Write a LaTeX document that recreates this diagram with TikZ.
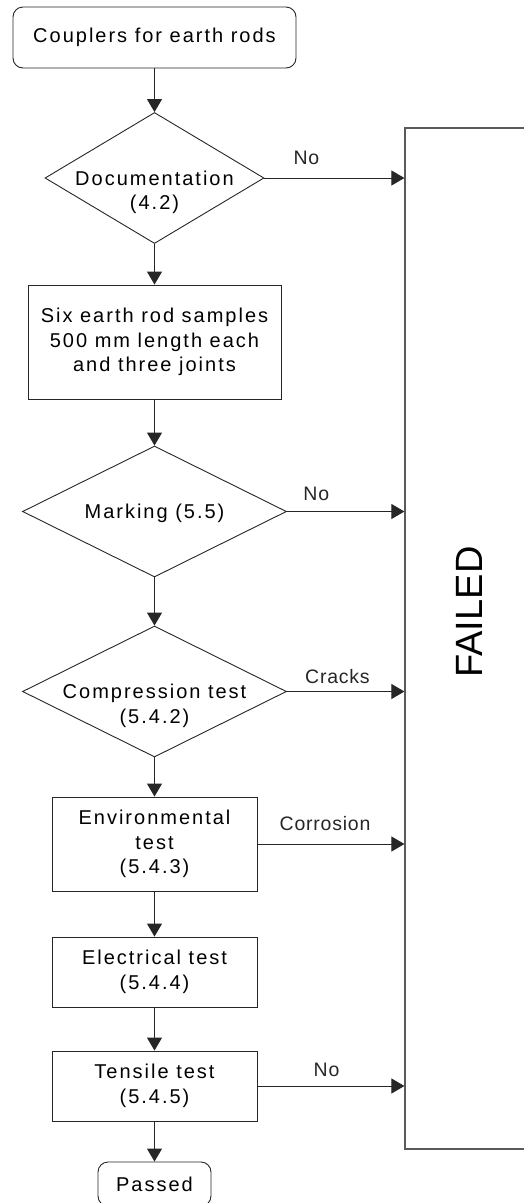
\documentclass[tikz,border=0pt]{standalone}
\usepackage{fontspec}
\setmainfont{Liberation Sans}
\newfontfamily\boxfont{Liberation Sans}[LetterSpace=10]
\newfontfamily\lblfont{Liberation Sans}[LetterSpace=4]
\usetikzlibrary{positioning,arrows.meta,shapes.geometric}
\definecolor{fcline}{HTML}{262626}
\definecolor{fcgray}{HTML}{5A5A5A}

\begin{document}
\begin{tikzpicture}[x=1pt,y=1pt,
  font=\boxfont\fontsize{20}{24.5}\selectfont,
  term/.style={rectangle,rounded corners=10pt,draw=fcline,line width=0.9pt,align=center,inner sep=0pt},
  stepbox/.style={rectangle,draw=fcline,line width=0.9pt,align=center,inner sep=0pt,minimum width=205pt,minimum height=70pt},
  check/.style={diamond,draw=fcline,line width=0.9pt,inner sep=0pt,aspect=2,text height=14pt,text depth=0pt},
  flow/.style={-{Triangle[length=13pt,width=15pt]},line width=1pt,fcline},
  lbl/.style={font=\lblfont\fontsize{19.5}{22}\selectfont,inner sep=0pt,anchor=base},
  failbox/.style={rectangle,draw=fcgray,line width=1.2pt,minimum width=160pt,minimum height=1021pt}]
  \useasboundingbox (0,0) rectangle (523,-1203);
  % main column
  \node[term,minimum width=283pt,minimum height=61pt] (start) at (154.5,-37.5) {Couplers for earth rods};
  \node[check,minimum width=219pt,minimum height=131pt] (doc) at (154.5,-178) {\begin{tabular}[t]{@{}c@{}}Documentation\\(4.2)\end{tabular}};
  \node[stepbox,minimum width=253pt,minimum height=114pt] (samp) at (154.5,-342) {Six earth rod samples\\500 mm length each\\and three joints};
  \node[check,minimum width=264pt,minimum height=131pt] (mark) at (154.5,-511.5) {Marking (5.5)};
  \node[check,minimum width=264pt,minimum height=131pt] (comp) at (154.5,-691.5) {\begin{tabular}[t]{@{}c@{}}Compression test\\(5.4.2)\end{tabular}};
  \node[stepbox,minimum height=94pt] (env) at (154.5,-844) {Environmental\\test\\(5.4.3)};
  \node[stepbox] (elec) at (154.5,-972) {Electrical test\\(5.4.4)};
  \node[stepbox] (tens) at (154.5,-1086) {Tensile test\\(5.4.5)};
  \node[term,minimum width=113pt,minimum height=44pt] (pass) at (154.5,-1184) {Passed};
  % failed column
  \node[failbox] (fail) at (485,-638.5) {};
  \node[font=\fontsize{38}{40}\selectfont,rotate=90,inner sep=0pt] (failtxt) at (469,-612) {FAILED};
  % connectors
  \draw[flow] (start) -- (doc);
  \draw[flow] (doc) -- (samp);
  \draw[flow] (samp) -- (mark);
  \draw[flow] (mark) -- (comp);
  \draw[flow] (comp) -- (env);
  \draw[flow] (env) -- (elec);
  \draw[flow] (elec) -- (tens);
  \draw[flow] (tens) -- (pass);
  \draw[flow] (doc.east) -- (doc.east -| fail.west) node[lbl,pos=.30,yshift=14pt] (no1) {No};
  \draw[flow] (mark.east) -- (mark.east -| fail.west) node[lbl,pos=.25,yshift=11pt] (no2) {No};
  \draw[flow] (comp.east) -- (comp.east -| fail.west) node[lbl,pos=.43,yshift=8pt] (cracks) {Cracks};
  \draw[flow] (env.east) -- (env.east -| fail.west) node[lbl,pos=.46,yshift=14pt] (corr) {Corrosion};
  \draw[flow] (tens.east) -- (tens.east -| fail.west) node[lbl,pos=.47,yshift=10pt] (no3) {No};
\end{tikzpicture}
\end{document}
